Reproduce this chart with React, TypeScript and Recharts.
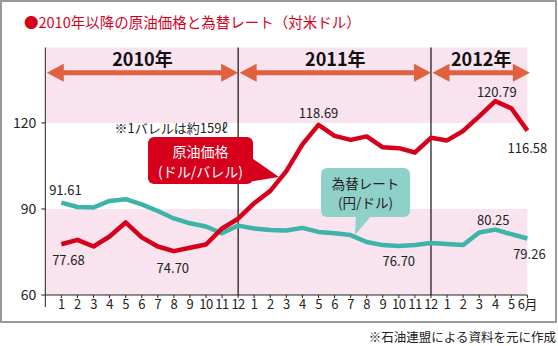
import { LineChart, Line, XAxis, YAxis, ReferenceArea, ReferenceLine } from 'recharts';

const FONT = '"Noto Sans CJK JP", "Noto Sans", sans-serif';

// month ticks: Jan 2010 .. Jun 2012
const monthLabels = [
  '1', '2', '3', '4', '5', '6', '7', '8', '9', '10', '11', '12',
  '1', '2', '3', '4', '5', '6', '7', '8', '9', '10', '11', '12',
  '1', '2', '3', '4', '5', '6月',
];

// 原油価格 (ドル/バレル)
const crudeOil = [
  77.7, 79.2, 76.9, 80.4, 85.3, 80.1, 76.9, 75.3, 76.5, 77.6, 83.2, 86.6,
  92.0, 96.3, 103.2, 112.5, 119.3, 115.5, 114.1, 115.3, 111.5, 111.2, 109.7, 114.8,
  113.9, 117.2, 122.3, 127.6, 125.1, 117.3,
];

// 為替レート (円/ドル)
const yenRate = [
  92.2, 90.7, 90.5, 92.8, 93.4, 91.6, 89.3, 86.7, 85.0, 83.9, 81.5, 84.2,
  83.2, 82.7, 82.5, 83.4, 82.0, 81.5, 80.9, 78.5, 77.4, 77.1, 77.4, 78.1,
  77.8, 77.4, 81.8, 82.8, 81.2, 79.7,
];

const crudeNotes: Record<number, string> = { 0: '77.68', 7: '74.70', 16: '118.69', 27: '120.79', 29: '116.58' };
const yenNotes: Record<number, string> = { 0: '91.61', 21: '76.70', 27: '80.25', 29: '79.26' };

const yearSpans = [
  { label: '2010年', from: 0, to: 12 },
  { label: '2011年', from: 12, to: 24 },
  { label: '2012年', from: 24, to: 30 },
];

const yTicks = [60, 90, 120];
const yMax = 146.3;

const data = monthLabels.map((m, i) => ({ idx: i + 1, month: m, crude: crudeOil[i], yen: yenRate[i] }));

// label offsets from the point (px)
const crudeOffsets: Record<number, [number, number]> = { 0: [7, 15], 7: [-1, 16], 16: [0, -12], 27: [1.5, -10], 29: [0, 16.5] };
const yenOffsets: Record<number, [number, number]> = { 0: [4, -13], 21: [0, 15], 27: [-2, -10.5], 29: [2, 15] };

const PINK = '#f9e3ee';
const RED = '#d7001c';
const TEAL = '#3cb4a7';
const ARROW = '#e0603f';

const noteLabel = (notes: Record<number, string>, offsets: Record<number, [number, number]>) =>
  (props: any) => {
    const { x, y, index } = props;
    const t = notes[index];
    if (!t) return null;
    const [dx, dy] = offsets[index];
    return (
      <text key={index} x={x + dx} y={y + dy} textAnchor="middle" dominantBaseline="central"
        fontSize={13} fontFamily={FONT} fill="#222">{t}</text>
    );
  };

const YearArrow = (props: any) => {
  const { x1, y1, x2, label, extend = 0 } = props;
  const a = x1 + 1.5;
  const b = x2 + extend;
  const y = y1;
  const hl = 17, hh = 9, st = 2.6;
  const pts = [
    [a, y], [a + hl, y - hh], [a + hl, y - st], [b - hl, y - st], [b - hl, y - hh],
    [b, y], [b - hl, y + hh], [b - hl, y + st], [a + hl, y + st], [a + hl, y + hh],
  ].map(p => p.join(',')).join(' ');
  return (
    <g>
      <polygon points={pts} fill={ARROW} />
      <text x={(a + b) / 2} y={y - 15} textAnchor="middle" dominantBaseline="central"
        fontSize={18} fontWeight="bold" fontFamily={FONT} fill="#111">{label}</text>
    </g>
  );
};

export default function App() {
  return (
    <div style={{ position: 'absolute', left: 0, top: 0, width: 558, height: 346, background: '#fff', fontFamily: FONT }}>
      <LineChart width={558} height={346} data={data} margin={{ top: 47.5, right: 30.6, bottom: 21, left: 0 }}>
        <ReferenceArea y1={60} y2={90} fill={PINK} fillOpacity={1} stroke="none" />
        <ReferenceArea y1={120} y2={yMax} fill={PINK} fillOpacity={1} stroke="none" />
        <ReferenceLine x={12} stroke="#111" strokeWidth={1.2} />
        <ReferenceLine x={24} stroke="#111" strokeWidth={1.2} />
        {yearSpans.map((s, i) => (
          <ReferenceLine key={s.label} segment={[{ x: s.from, y: 137.5 }, { x: s.to, y: 137.5 }]}
            ifOverflow="visible"
            shape={(p: any) => <YearArrow {...p} label={s.label} extend={i === 2 ? 2.5 : 0} />} />
        ))}
        <XAxis dataKey="idx" type="number" domain={[0, 30]} ticks={data.map(d => d.idx)} interval={0}
          tickFormatter={(v: number) => monthLabels[v - 1]} height={30} tickSize={3} tickMargin={2}
          stroke="#222" tick={{ fill: '#222', fontSize: 13, fontFamily: FONT, letterSpacing: -0.5 }} />
        <YAxis type="number" domain={[60, yMax]} ticks={yTicks} width={45.3} tickSize={4} tickMargin={5}
          stroke="#222" tick={{ fill: '#222', fontSize: 14, fontFamily: FONT }} />
        <Line dataKey="yen" stroke={TEAL} strokeWidth={4.5} dot={false} activeDot={false}
          isAnimationActive={false} strokeLinejoin="round" label={noteLabel(yenNotes, yenOffsets)} />
        <Line dataKey="crude" stroke={RED} strokeWidth={4.5} dot={false} activeDot={false}
          isAnimationActive={false} strokeLinejoin="round" label={noteLabel(crudeNotes, crudeOffsets)} />
      </LineChart>
      <svg width={558} height={346} style={{ position: 'absolute', left: 0, top: 0, pointerEvents: 'none' }}>
        <rect x={1} y={1} width={555} height={321} fill="none" stroke="#9a9a9a" strokeWidth={2} />
        <text x={24} y={21} dominantBaseline="central" fontSize={14.5} fill={RED} fontFamily={FONT}>
          ●2010年以降の原油価格と為替レート（対米ドル）
        </text>
        <line x1={45.3} y1={295} x2={45.3} y2={307} stroke="#222" strokeWidth={1} />
        <text x={171} y={127} textAnchor="middle" dominantBaseline="central" fontSize={13} fill="#222" fontFamily={FONT}>
          ※1バレルは約159ℓ
        </text>
        {/* 原油価格 callout */}
        <polygon points="249,156 279,177 241,183" fill={RED} />
        <rect x={148} y={137} width={105} height={47} rx={6} fill={RED} />
        <text x={200.5} y={150.5} textAnchor="middle" dominantBaseline="central" fontSize={14} fill="#fff" fontFamily={FONT}>原油価格</text>
        <text x={200.5} y={171} textAnchor="middle" dominantBaseline="central" fontSize={14} fill="#fff" fontFamily={FONT}>(ドル/バレル)</text>
        {/* 為替レート callout */}
        <polygon points="356,215 372,215 355,235" fill="#8fd0c8" />
        <rect x={321} y={168} width={89} height={49} rx={6} fill="#8fd0c8" />
        <text x={365.5} y={182.5} textAnchor="middle" dominantBaseline="central" fontSize={13.5} fill="#222" fontFamily={FONT}>為替レート</text>
        <text x={365.5} y={202.3} textAnchor="middle" dominantBaseline="central" fontSize={13.5} fill="#222" fontFamily={FONT}>(円/ドル)</text>
        <text x={556} y={336} textAnchor="end" dominantBaseline="central" fontSize={12.5} fill="#222" fontFamily={FONT}>
          ※石油連盟による資料を元に作成
        </text>
      </svg>
    </div>
  );
}
